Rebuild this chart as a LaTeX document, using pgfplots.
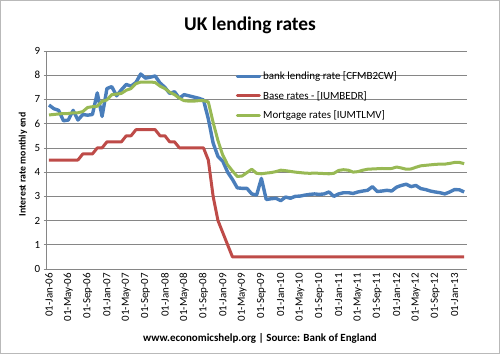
\documentclass[border=0pt]{standalone}
\usepackage{fontspec}
\setmainfont{Carlito}
\usepackage{pgfplots}
\usepackage{pgfplotstable}
\pgfplotsset{compat=1.18}
\definecolor{xblue}{RGB}{74,126,187}
\definecolor{xred}{RGB}{190,75,72}
\definecolor{xgreen}{RGB}{152,185,84}
\definecolor{xgrid}{RGB}{134,134,134}
\pgfplotstableread{
i blue red green
0 6.77 4.5 6.36
1 6.62 4.5 6.38
2 6.55 4.5 6.40
3 6.12 4.5 6.42
4 6.15 4.5 6.42
5 6.55 4.5 6.45
6 6.15 4.5 6.45
7 6.38 4.75 6.50
8 6.35 4.75 6.67
9 6.38 4.75 6.70
10 7.27 5.0 6.72
11 6.30 5.0 6.92
12 7.45 5.25 6.98
13 7.53 5.25 7.20
14 7.15 5.25 7.22
15 7.40 5.25 7.25
16 7.62 5.5 7.38
17 7.55 5.5 7.45
18 7.70 5.75 7.65
19 8.05 5.75 7.72
20 7.88 5.75 7.72
21 7.92 5.75 7.72
22 7.97 5.75 7.70
23 7.68 5.5 7.55
24 7.50 5.5 7.45
25 7.25 5.25 7.30
26 7.32 5.25 7.20
27 7.05 5.0 7.05
28 7.20 5.0 6.95
29 7.15 5.0 6.93
30 7.10 5.0 6.93
31 7.05 5.0 6.95
32 6.98 5.0 6.95
33 6.20 4.5 6.90
34 5.20 3.0 6.05
35 4.65 2.0 5.30
36 4.45 1.5 4.70
37 4.00 1.0 4.30
38 3.70 0.5 4.05
39 3.35 0.5 3.82
40 3.33 0.5 3.84
41 3.33 0.5 3.98
42 3.10 0.5 4.12
43 3.05 0.5 3.95
44 3.74 0.5 3.93
45 2.87 0.5 3.96
46 2.90 0.5 3.98
47 2.92 0.5 4.02
48 2.82 0.5 4.08
49 2.97 0.5 4.06
50 2.92 0.5 4.03
51 3.00 0.5 4.00
52 3.01 0.5 3.98
53 3.05 0.5 3.96
54 3.08 0.5 3.95
55 3.10 0.5 3.96
56 3.08 0.5 3.95
57 3.10 0.5 3.94
58 3.18 0.5 3.93
59 3.00 0.5 3.95
60 3.10 0.5 4.07
61 3.15 0.5 4.10
62 3.15 0.5 4.08
63 3.12 0.5 4.00
64 3.18 0.5 4.02
65 3.22 0.5 4.08
66 3.25 0.5 4.12
67 3.40 0.5 4.13
68 3.20 0.5 4.14
69 3.22 0.5 4.15
70 3.25 0.5 4.14
71 3.22 0.5 4.15
72 3.38 0.5 4.21
73 3.45 0.5 4.17
74 3.50 0.5 4.12
75 3.40 0.5 4.13
76 3.45 0.5 4.20
77 3.32 0.5 4.26
78 3.28 0.5 4.28
79 3.22 0.5 4.30
80 3.18 0.5 4.32
81 3.15 0.5 4.33
82 3.10 0.5 4.33
83 3.18 0.5 4.36
84 3.28 0.5 4.40
85 3.27 0.5 4.40
86 3.18 0.5 4.35
}\ratesdata
\begin{document}
\begin{tikzpicture}
\useasboundingbox (-49bp,-85bp) rectangle (451bp,269bp);
\draw[gray!55, line width=0.8bp] (-48.6bp,-84.6bp) rectangle (450.6bp,268.6bp);
\begin{axis}[
  at={(0bp,0bp)}, anchor=origin,
  scale only axis, width=420bp, height=218bp,
  xmin=-0.5, xmax=86.5, ymin=0, ymax=9,
  axis x line*=bottom, axis y line*=left,
  axis line style={xgrid, line width=0.6bp},
  ytick={0,1,...,9},
  ymajorgrids, grid style={xgrid, line width=0.6bp},
  xtick={0,4,...,84},
  xticklabels={01-Jan-06,01-May-06,01-Sep-06,01-Jan-07,01-May-07,01-Sep-07,01-Jan-08,01-May-08,01-Sep-08,01-Jan-09,01-May-09,01-Sep-09,01-Jan-10,01-May-10,01-Sep-10,01-Jan-11,01-May-11,01-Sep-11,01-Jan-12,01-May-12,01-Sep-12,01-Jan-13},
  x tick label style={rotate=90, anchor=east, font=\fontsize{11}{13}\selectfont, inner sep=1bp},
  y tick label style={font=\fontsize{11}{13}\selectfont},
  /pgf/number format/assume math mode=true,
  tick style={xgrid, line width=0.6bp},
  tick align=outside, major tick length=3bp,
  xtick style={draw=none},
  ylabel={\bfseries Interest rate monthly end},
  ylabel style={font=\fontsize{9.8}{11}\selectfont, at={(axis description cs:0,0.48)}, yshift=16bp},
  legend style={draw=none, fill=none, at={(0.45,0.915)}, anchor=north west,
    font=\fontsize{11}{13}\selectfont, row sep=6bp, inner sep=0bp},
  legend cell align=left,
  legend image code/.code={\draw[#1, line cap=round] (0bp,0bp) -- (22bp,0bp);},
]
\addplot[xblue, line width=3.4bp, line join=round] table[x=i, y=blue] {\ratesdata};
\addlegendentry{bank lending rate [CFMB2CW]}
\addplot[xred, line width=3bp, line join=round] table[x=i, y=red] {\ratesdata};
\addlegendentry{Base rates - [IUMBEDR]}
\addplot[xgreen, line width=3bp, line join=round] table[x=i, y=green] {\ratesdata};
\addlegendentry{Mortgage rates [IUMTLMV]}
\end{axis}
\node[font=\fontsize{19.5}{23}\selectfont\bfseries] at (201bp,244bp) {UK lending rates};
\node[font=\fontsize{11}{13}\selectfont\bfseries] at (211bp,-69bp) {www.economicshelp.org | Source: Bank of England};
\end{tikzpicture}
\end{document}
